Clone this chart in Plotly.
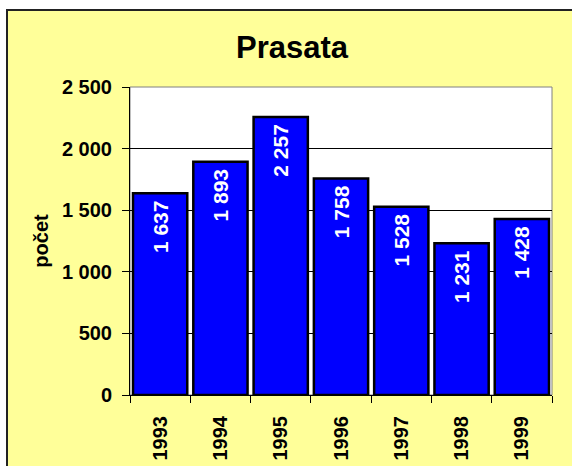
import plotly.graph_objects as go

# Data: number of pigs per year
years = ["1993", "1994", "1995", "1996", "1997", "1998", "1999"]
counts = [1637, 1893, 2257, 1758, 1528, 1231, 1428]

title_text = "Prasata"
y_title = "počet"

W, H = 572, 466
ML, MR, MT, MB = 130, 20, 87, 71
PW, PH = W - ML - MR, H - MT - MB

FONT = "Arial, Liberation Sans, sans-serif"


def px_x(px):
    return (px - ML) / PW


def px_y(py):
    return (H - MB - py) / PH


fig = go.Figure(
    go.Bar(
        x=years,
        y=counts,
        marker=dict(color="#0000FF", line=dict(color="black", width=2.5)),
        texttemplate="%{y:,}\u2009",
        textposition="inside",
        textangle=-90,
        insidetextanchor="end",
        insidetextfont=dict(color="white", size=21, family=FONT, weight="bold"),
        constraintext="none",
        hoverinfo="skip",
    )
)

shapes = [
    # chart area with border
    dict(type="rect", xref="paper", yref="paper", layer="below",
         x0=px_x(7), x1=px_x(590), y0=px_y(490), y1=px_y(10),
         fillcolor="#FFFF99", line=dict(color="#222222", width=2)),
    # plot area
    dict(type="rect", xref="paper", yref="paper", layer="below",
         x0=0, x1=1, y0=0, y1=1,
         fillcolor="white", line=dict(color="#808080", width=1)),
]

fig.update_layout(
    width=W,
    height=H,
    margin=dict(l=ML, r=MR, t=MT, b=MB, pad=0, autoexpand=False),
    paper_bgcolor="white",
    plot_bgcolor="white",
    separators=", ",
    showlegend=False,
    bargap=0.1,
    font=dict(family=FONT, size=20, color="black", weight="bold"),
    title=dict(text=title_text, x=292 / W, xref="container", xanchor="center",
               y=1 - 47 / H, yref="container", yanchor="middle",
               font=dict(size=31, family=FONT, weight="bold", color="black")),
    shapes=shapes,
)

fig.update_xaxes(
    type="category",
    automargin=False,
    tickangle=-90,
    ticks="outside",
    ticklen=7,
    tickcolor="black",
    tickson="boundaries",
    showline=True,
    linecolor="black",
    linewidth=1,
    showgrid=False,
    ticklabelstandoff=12,
    tickfont=dict(size=20, family=FONT, weight="bold"),
)

fig.update_yaxes(
    automargin=False,
    range=[0, 2500],
    dtick=500,
    tick0=0,
    separatethousands=True,
    ticks="outside",
    ticklen=7,
    tickcolor="black",
    showline=True,
    linecolor="black",
    linewidth=1,
    showgrid=True,
    gridcolor="black",
    gridwidth=1,
    zeroline=False,
    ticklabelstandoff=6,
    tickfont=dict(size=20, family=FONT, weight="bold"),
    title=dict(text=y_title, standoff=7,
               font=dict(size=20, family=FONT, weight="bold")),
)

fig.write_html("out.html")
